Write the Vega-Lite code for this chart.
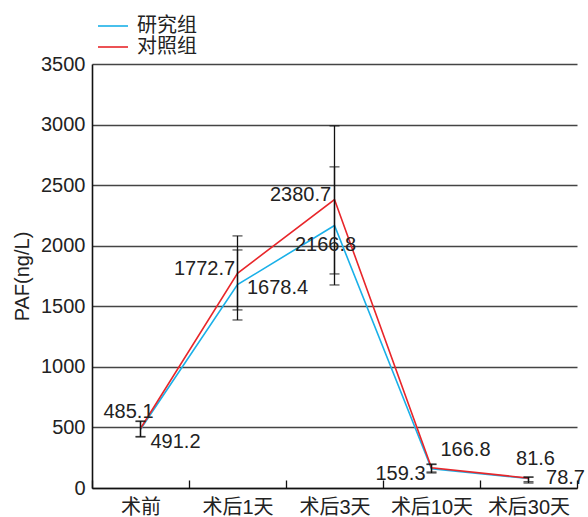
{
  "$schema": "https://vega.github.io/schema/vega-lite/v6.json",
  "width": 485,
  "height": 424,
  "autosize": "none",
  "padding": {"left": 92, "top": 64, "right": 11, "bottom": 29},
  "background": "white",
  "config": {
    "view": {"stroke": null},
    "font": "Liberation Sans, Noto Sans CJK SC",
    "text": {"font": "Liberation Sans, Noto Sans CJK SC"}
  },
  "data": {
    "values": [
      {"group": "研究组", "time": "术前", "value": 485.1, "lo": 421, "hi": 549},
      {"group": "研究组", "time": "术后1天", "value": 1678.4, "lo": 1387, "hi": 1965},
      {"group": "研究组", "time": "术后3天", "value": 2166.8, "lo": 1676, "hi": 2651},
      {"group": "研究组", "time": "术后10天", "value": 159.3, "lo": 124, "hi": 194},
      {"group": "研究组", "time": "术后30天", "value": 78.7, "lo": 41, "hi": 89},
      {"group": "对照组", "time": "术前", "value": 491.2, "lo": 425, "hi": 553},
      {"group": "对照组", "time": "术后1天", "value": 1772.7, "lo": 1470, "hi": 2081},
      {"group": "对照组", "time": "术后3天", "value": 2380.7, "lo": 1767, "hi": 2989},
      {"group": "对照组", "time": "术后10天", "value": 166.8, "lo": 132, "hi": 198},
      {"group": "对照组", "time": "术后30天", "value": 81.6, "lo": 52, "hi": 91}
    ]
  },
  "encoding": {
    "x": {
      "field": "time",
      "type": "nominal",
      "sort": ["术前", "术后1天", "术后3天", "术后10天", "术后30天"],
      "scale": {"type": "band", "paddingInner": 0, "paddingOuter": 0},
      "axis": {
        "title": null,
        "labelAngle": 0,
        "labelFontSize": 20,
        "labelColor": "#222",
        "labelPadding": 17,
        "domainColor": "#111",
        "domainWidth": 1.6,
        "ticks": true,
        "tickBand": "extent",
        "tickSize": -8,
        "tickColor": "#111",
        "tickWidth": 1.3,
        "grid": false
      }
    }
  },
  "layer": [
    {
      "mark": {"type": "line", "strokeWidth": 1.6},
      "encoding": {
        "y": {
          "field": "value",
          "type": "quantitative",
          "scale": {"domain": [0, 3500], "nice": false},
          "axis": {
            "values": [0, 500, 1000, 1500, 2000, 2500, 3000, 3500],
            "format": "d",
            "title": "PAF(ng/L)",
            "titleFontSize": 20,
            "titleFontWeight": "normal",
            "titleColor": "#222",
            "titlePadding": 8,
            "labelFontSize": 20,
            "labelColor": "#222",
            "labelPadding": 7,
            "ticks": false,
            "domainColor": "#111",
            "domainWidth": 1.6,
            "grid": true,
            "gridColor": "#444",
            "gridWidth": 1.4
          }
        },
        "color": {
          "field": "group",
          "type": "nominal",
          "scale": {"domain": ["研究组", "对照组"], "range": ["#1ab0e8", "#e8262a"]},
          "legend": {
            "title": null,
            "orient": "none",
            "legendX": 10,
            "legendY": -49,
            "symbolType": "M-1.5,0H1.5",
            "symbolSize": 400,
            "symbolStrokeWidth": 1.6,
            "labelFontSize": 20,
            "labelColor": "#222",
            "labelOffset": 13,
            "rowPadding": -1,
            "padding": 0
          }
        }
      }
    },
    {
      "mark": {"type": "rule", "color": "#111", "strokeWidth": 1.3},
      "encoding": {
        "y": {"field": "lo", "type": "quantitative"},
        "y2": {"field": "hi"}
      }
    },
    {
      "mark": {"type": "tick", "color": "#111", "size": 10, "thickness": 1.3, "orient": "horizontal"},
      "encoding": {"y": {"field": "lo", "type": "quantitative"}}
    },
    {
      "mark": {"type": "tick", "color": "#111", "size": 10, "thickness": 1.3, "orient": "horizontal"},
      "encoding": {"y": {"field": "hi", "type": "quantitative"}}
    },
    {
      "transform": [{"filter": "datum.group == '研究组' && datum.time == '术前'"}],
      "mark": {"type": "text", "fontSize": 20, "color": "#222", "align": "center", "baseline": "middle", "dx": -12, "dy": -17},
      "encoding": {"y": {"field": "value", "type": "quantitative"}, "text": {"field": "value", "type": "quantitative", "format": ".1f"}}
    },
    {
      "transform": [{"filter": "datum.group == '对照组' && datum.time == '术前'"}],
      "mark": {"type": "text", "fontSize": 20, "color": "#222", "align": "center", "baseline": "middle", "dx": 35, "dy": 14},
      "encoding": {"y": {"field": "value", "type": "quantitative"}, "text": {"field": "value", "type": "quantitative", "format": ".1f"}}
    },
    {
      "transform": [{"filter": "datum.group == '对照组' && datum.time == '术后1天'"}],
      "mark": {"type": "text", "fontSize": 20, "color": "#222", "align": "center", "baseline": "middle", "dx": -33, "dy": -4},
      "encoding": {"y": {"field": "value", "type": "quantitative"}, "text": {"field": "value", "type": "quantitative", "format": ".1f"}}
    },
    {
      "transform": [{"filter": "datum.group == '研究组' && datum.time == '术后1天'"}],
      "mark": {"type": "text", "fontSize": 20, "color": "#222", "align": "center", "baseline": "middle", "dx": 40, "dy": 3},
      "encoding": {"y": {"field": "value", "type": "quantitative"}, "text": {"field": "value", "type": "quantitative", "format": ".1f"}}
    },
    {
      "transform": [{"filter": "datum.group == '对照组' && datum.time == '术后3天'"}],
      "mark": {"type": "text", "fontSize": 20, "color": "#222", "align": "center", "baseline": "middle", "dx": -34, "dy": -5},
      "encoding": {"y": {"field": "value", "type": "quantitative"}, "text": {"field": "value", "type": "quantitative", "format": ".1f"}}
    },
    {
      "transform": [{"filter": "datum.group == '研究组' && datum.time == '术后3天'"}],
      "mark": {"type": "text", "fontSize": 20, "color": "#222", "align": "center", "baseline": "middle", "dx": -9, "dy": 19},
      "encoding": {"y": {"field": "value", "type": "quantitative"}, "text": {"field": "value", "type": "quantitative", "format": ".1f"}}
    },
    {
      "transform": [{"filter": "datum.group == '研究组' && datum.time == '术后10天'"}],
      "mark": {"type": "text", "fontSize": 20, "color": "#222", "align": "center", "baseline": "middle", "dx": -31, "dy": 5},
      "encoding": {"y": {"field": "value", "type": "quantitative"}, "text": {"field": "value", "type": "quantitative", "format": ".1f"}}
    },
    {
      "transform": [{"filter": "datum.group == '对照组' && datum.time == '术后10天'"}],
      "mark": {"type": "text", "fontSize": 20, "color": "#222", "align": "center", "baseline": "middle", "dx": 34, "dy": -18},
      "encoding": {"y": {"field": "value", "type": "quantitative"}, "text": {"field": "value", "type": "quantitative", "format": ".1f"}}
    },
    {
      "transform": [{"filter": "datum.group == '对照组' && datum.time == '术后30天'"}],
      "mark": {"type": "text", "fontSize": 20, "color": "#222", "align": "center", "baseline": "middle", "dx": 7, "dy": -19},
      "encoding": {"y": {"field": "value", "type": "quantitative"}, "text": {"field": "value", "type": "quantitative", "format": ".1f"}}
    },
    {
      "transform": [{"filter": "datum.group == '研究组' && datum.time == '术后30天'"}],
      "mark": {"type": "text", "fontSize": 20, "color": "#222", "align": "center", "baseline": "middle", "dx": 37, "dy": 0},
      "encoding": {"y": {"field": "value", "type": "quantitative"}, "text": {"field": "value", "type": "quantitative", "format": ".1f"}}
    }
  ]
}
